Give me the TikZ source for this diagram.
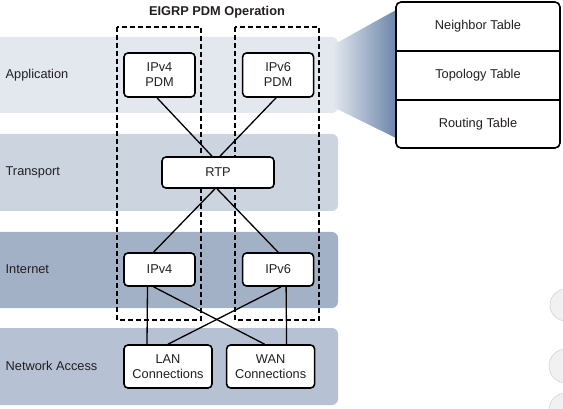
\documentclass[tikz,border=0pt]{standalone}
\usepackage{fontspec}
\setmainfont{Liberation Sans}
\usetikzlibrary{positioning}

\definecolor{applayer}{HTML}{E3E7EE}
\definecolor{translayer}{HTML}{CCD4E0}
\definecolor{netlayer}{HTML}{A3B1C7}
\definecolor{acclayer}{HTML}{B6C2D4}
\definecolor{fandark}{HTML}{6B86AA}
\definecolor{txtgrey}{HTML}{231F20}
\definecolor{btnfill}{HTML}{F1F1F1}
\definecolor{btnline}{HTML}{D4D4D4}

\begin{document}
\begin{tikzpicture}[
            x = 1pt, y = -1pt, % pixel grid, y down
            font = \fontsize{12.8}{15}\selectfont,
            line width = 1.3pt % line style
        ]

        \tikzstyle{box}=[
            draw = black,
            line width = 1.6pt,
            fill = white,
            text = txtgrey,
            rounded corners = 4pt,
            align = center,
            inner sep = 0pt
        ]
        \tikzstyle{pdm}=[box, minimum width = 71pt, minimum height = 44pt]
        \tikzstyle{proto}=[box, minimum width = 71pt, minimum height = 33pt]
        \tikzstyle{link}=[box, minimum width = 88pt, minimum height = 43pt]
        \tikzstyle{layer}=[anchor = west, text = txtgrey, inner sep = 0pt]
        \tikzstyle{pdmzone}=[draw = black, line width = 1.5pt, dash pattern = on 5pt off 3pt]

        \useasboundingbox (0, 0) rectangle (563, 409);

        % layer bands
        \begin{scope}
            \clip (0, 0) rectangle (563, 409);
            \fill[applayer, rounded corners = 6pt] (-10, 37) rectangle (338, 113);
            \fill[translayer, rounded corners = 6pt] (-10, 134) rectangle (338, 211);
            \fill[netlayer, rounded corners = 6pt] (-10, 232) rectangle (338, 308);
            \fill[acclayer, rounded corners = 6pt] (-10, 328) rectangle (338, 405);
            \fill[btnfill, draw = btnline, line width = 0.6pt] (566, 305) circle (16);
            \fill[btnfill, draw = btnline, line width = 0.6pt] (566, 366) circle (17);
            \fill[btnfill, draw = btnline, line width = 0.6pt] (566, 410) circle (17);
        \end{scope}

        \node[layer] (app) at (5, 75) {Application};
        \node[layer] (trans) at (5, 172) {Transport};
        \node[layer] (inet) at (5, 269) {Internet};
        \node[layer] (acc) at (5, 366) {Network Access};

        % fan out to the tables
        \shade[left color = applayer, right color = fandark]
            (333, 45) -- (396, 10) -- (396, 138) -- (333, 107) -- cycle;

        \node[draw = black, line width = 1.6pt, fill = white, rounded corners = 5pt,
              minimum width = 164pt, minimum height = 146pt] (tables) at (478, 75) {};
        \draw[line width = 1.6pt] (396, 51) -- (560, 51);
        \draw[line width = 1.6pt] (396, 100) -- (560, 100);
        \node[text = txtgrey] (nbr) at (478, 26) {Neighbor Table};
        \node[text = txtgrey] (topo) at (478, 75) {Topology Table};
        \node[text = txtgrey] (route) at (478, 124) {Routing Table};

        \node[text = txtgrey, font = \fontsize{12.8}{15}\selectfont\bfseries] (title) at (217, 12) {EIGRP PDM Operation};

        \draw[pdmzone] (117, 27) rectangle (201, 320);
        \draw[pdmzone] (235, 27) rectangle (319, 320);

        \node[pdm] (pdmfour) at (159.5, 75) {IPv4\\PDM};
        \node[pdm] (pdmsix) [right = 46pt of pdmfour] {IPv6\\PDM};
        \node[box, minimum width = 112pt, minimum height = 31pt] (rtp) at (218, 172.5) {RTP};
        \node[proto] (ipfour) at (159.5, 269.5) {IPv4};
        \node[proto] (ipsix) [right = 46pt of ipfour] {IPv6};
        \node[link] (lan) at (168, 366.5) {LAN\\Connections};
        \node[link] (wan) [right = 13pt of lan] {WAN\\Connections};

        \draw ([xshift = -2.5pt]pdmfour.south) -- ([xshift = -6pt]rtp.north);
        \draw ([xshift = -2pt]pdmsix.south) -- ([xshift = 2pt]rtp.north);
        \draw ([xshift = -3pt]rtp.south) -- ([xshift = -6pt]ipfour.north);
        \draw ([xshift = -1pt]rtp.south) -- (ipsix.north);
        \draw ([xshift = -12pt]ipfour.south) -- ([xshift = -21pt]lan.north);
        \draw ([xshift = -6pt]ipfour.south) -- ([xshift = -6pt]wan.north);
        \draw ([xshift = 3pt]ipsix.south) -- (lan.north);
        \draw ([xshift = 8pt]ipsix.south) -- ([xshift = 16pt]wan.north);

    \end{tikzpicture}
\end{document}
